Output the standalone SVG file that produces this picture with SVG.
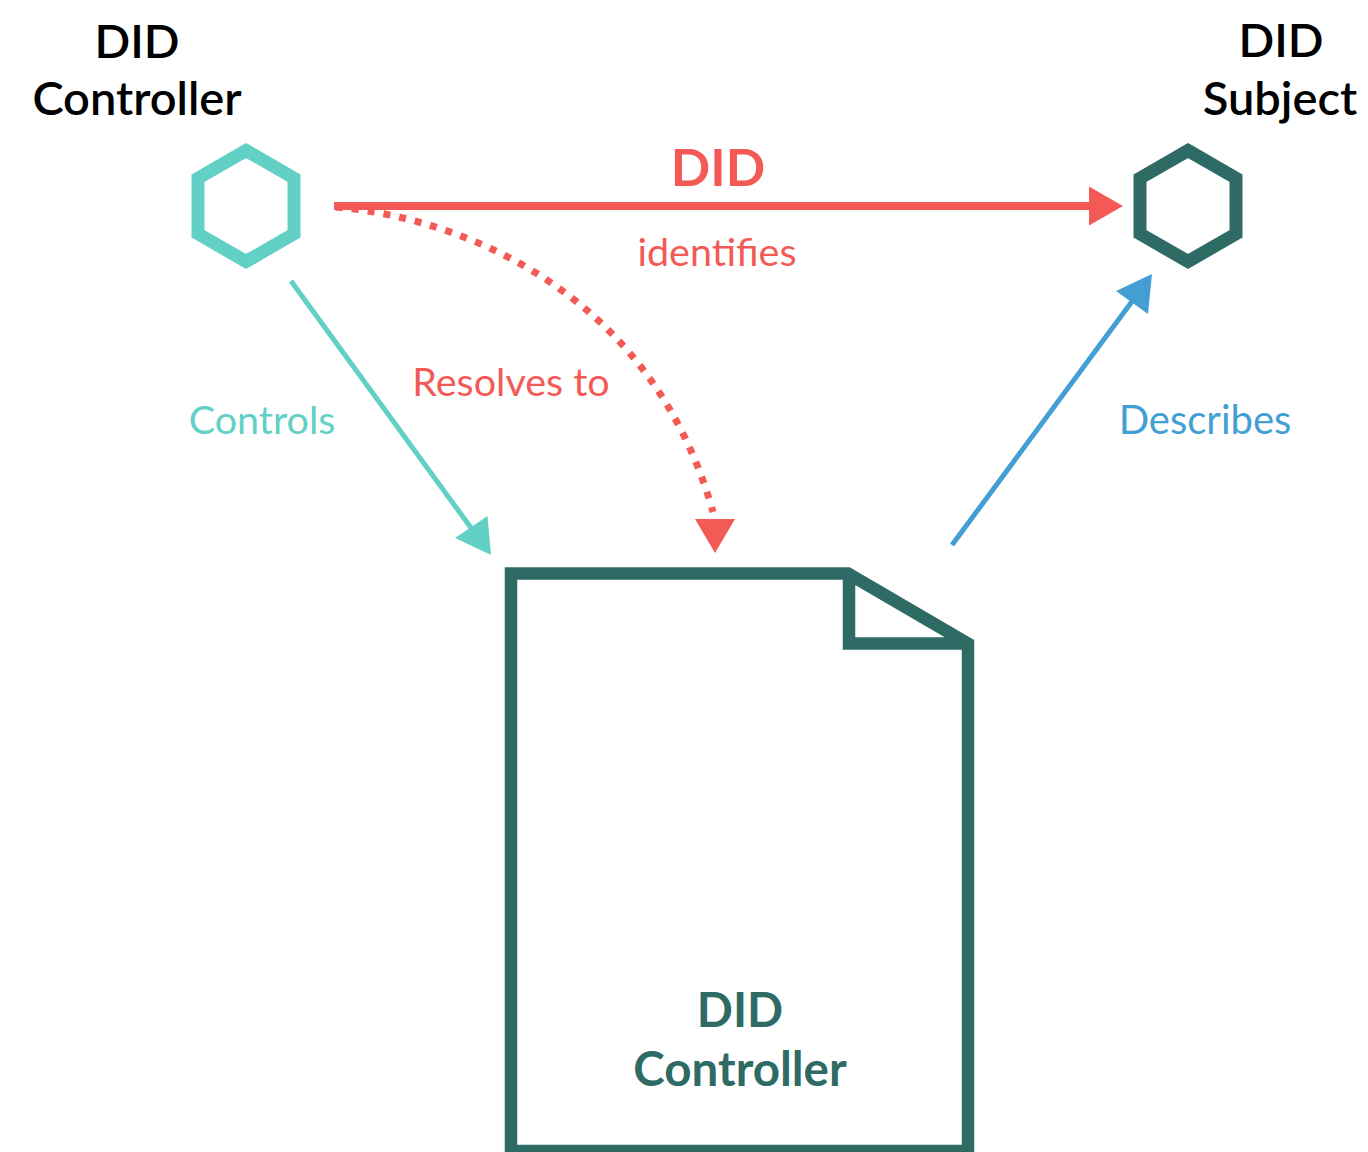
<svg xmlns="http://www.w3.org/2000/svg" width="1368" height="1152" viewBox="0 0 1368 1152">
  <style>
    text { font-family: Lato, "Open Sans", "Liberation Sans", sans-serif; text-anchor: middle; }
    .title { font-size: 47px; font-weight: 600; fill: #000000; }
    .doc-title { font-size: 47.5px; font-weight: 700; fill: #2e6b64; }
    .lbl { font-size: 39.5px; font-weight: 400; }
    .red { fill: #f45a55; }
    .teal { fill: #62d0c4; }
    .blue { fill: #439fd3; }
    .hex { fill: none; stroke-width: 13; stroke-linejoin: miter; }
  </style>

  <!-- controller node -->
  <g id="controller">
    <text class="title" x="137" y="58">DID</text>
    <text class="title" x="137" y="115">Controller</text>
    <polygon class="hex" stroke="#62d0c4" points="246,150.5 294,178.2 294,233.8 246,261.5 198,233.8 198,178.2"/>
  </g>

  <!-- subject node -->
  <g id="subject">
    <text class="title" x="1281" y="57">DID</text>
    <text class="title" x="1280" y="115">Subject</text>
    <polygon class="hex" stroke="#2e6b64" points="1188,150.5 1236,178.2 1236,233.8 1188,261.5 1140,233.8 1140,178.2"/>
  </g>

  <!-- document node -->
  <g id="document">
    <path d="M511,573.5 H848 L968,643.5 V1151 H511 Z M849,573.5 V643.5 H968" fill="none" stroke="#2e6b64" stroke-width="12.5" stroke-linejoin="miter"/>
    <text class="doc-title" x="740" y="1027">DID</text>
    <text class="doc-title" x="740" y="1086">Controller</text>
  </g>

  <!-- connectors -->
  <g id="connectors">
    <!-- identifies -->
    <line x1="334" y1="206" x2="1092" y2="206" stroke="#f45a55" stroke-width="8"/>
    <polygon points="1123,206 1089,186.5 1089,225.5" fill="#f45a55"/>
    <text class="lbl red" x="718" y="186" style="font-size:52px;font-weight:700">DID</text>
    <text class="lbl red" x="717" y="266">identifies</text>

    <!-- resolves to -->
    <path d="M336,207 C480,220 655,305 713,512" fill="none" stroke="#f45a55" stroke-width="7" stroke-dasharray="7,9"/>
    <polygon points="715,553 695,519 735,519" fill="#f45a55"/>
    <text class="lbl red" x="511" y="396">Resolves to</text>

    <!-- controls -->
    <line x1="291" y1="281" x2="474" y2="532" stroke="#62d0c4" stroke-width="5"/>
    <polygon points="491,555 455,538 487.5,516" fill="#62d0c4"/>
    <text class="lbl teal" x="262" y="434">Controls</text>

    <!-- describes -->
    <line x1="952" y1="545" x2="1136" y2="296" stroke="#439fd3" stroke-width="5"/>
    <polygon points="1152,274 1116,291 1148,314" fill="#439fd3"/>
    <text class="lbl blue" x="1205" y="434" style="font-size:40px">Describes</text>
  </g>
</svg>
